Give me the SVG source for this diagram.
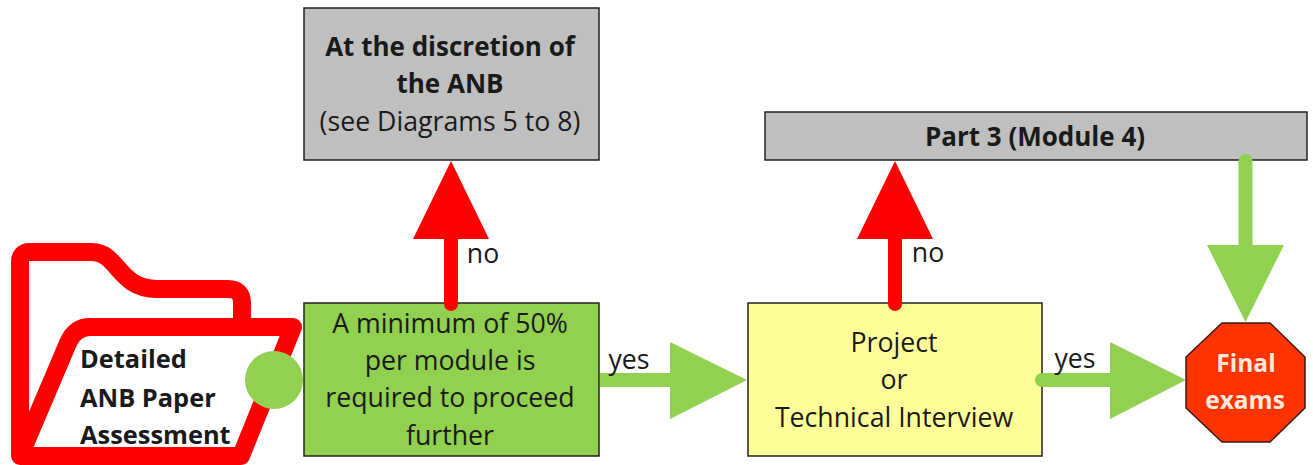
<svg xmlns="http://www.w3.org/2000/svg" width="1313" height="465" viewBox="0 0 1313 465">
<style>
text{font-family:"Open Sans","Liberation Sans",sans-serif;font-size:26.700px;fill:#1a1a1a;text-anchor:middle}
.b{font-weight:700;font-size:26px}
.f{font-weight:700;font-size:25.400px;text-anchor:start}
.w{fill:#ffe9dc;font-size:24.500px}
.box{stroke:#222;stroke-width:1.500}
.red{stroke:#ff0000;stroke-width:14;stroke-linecap:round;fill:none}
.grn{stroke:#92d050;stroke-width:14;stroke-linecap:round;fill:none}
.butt{stroke-linecap:butt}
</style>
<g id="folder">
<path d="M20 456V262Q20 252 30 252H92C118 252 118 289 157 289H228Q242 289 242 303V327" fill="none" stroke="#ff0000" stroke-width="18" stroke-linejoin="round"/>
<path d="M20 456L68 343Q75 327 90 327H293L241 456Z" fill="#fff" stroke="#ff0000" stroke-width="18" stroke-linejoin="round"/>
<text class="f" x="80" y="368">Detailed</text>
<text class="f" x="80" y="407">ANB Paper</text>
<text class="f" x="80" y="444">Assessment</text>
</g>
<g id="discretion">
<rect class="box" x="304" y="8" width="295" height="152" fill="#bfbfbf"/>
<text class="b" x="450" y="56">At the discretion of</text>
<text class="b" x="450" y="93">the ANB</text>
<text x="450" y="131">(see Diagrams 5 to 8)</text>
</g>
<g id="part3">
<rect class="box" x="765" y="112" width="542" height="48" fill="#bfbfbf"/>
<text class="b" x="1035" y="146">Part 3 (Module 4)</text>
</g>
<g id="minimum">
<rect class="box" x="304" y="303" width="295" height="153" fill="#92d050"/>
<text x="450" y="333">A minimum of 50%</text>
<text x="450" y="370">per module is</text>
<text x="450" y="407">required to proceed</text>
<text x="450" y="445">further</text>
</g>
<g id="project">
<rect class="box" x="748" y="303" width="294" height="153" fill="#ffff99"/>
<text x="894" y="352">Project</text>
<text x="894" y="389">or</text>
<text x="894" y="427">Technical Interview</text>
</g>
<g id="final">
<polygon points="1222,323 1270,323 1305,357 1305,408 1270,442 1222,442 1186,408 1186,357" fill="#ff3300" stroke="#3a1a10" stroke-width="1.500"/>
<text class="b w" x="1246" y="372">Final</text>
<text class="b w" x="1245" y="409">exams</text>
</g>
<g id="connectors">
<path class="red" d="M451 304V238"/>
<polygon points="451,161 489,239 413,239" fill="#ff0000"/>
<path class="red" d="M895 304V238"/>
<polygon points="895,161 933,239 857,239" fill="#ff0000"/>
<circle cx="274" cy="380" r="29" fill="#92d050"/>
<path class="grn butt" d="M600 380H672"/>
<polygon points="747,380 670,342 670,419" fill="#92d050"/>
<path class="grn" d="M1042 380H1112"/>
<polygon points="1186,380 1110,342 1110,419" fill="#92d050"/>
<path class="grn" d="M1245.500 161V247"/>
<polygon points="1245.500,322 1207,245 1284,245" fill="#92d050"/>
<text x="629" y="369">yes</text>
<text x="1075" y="368">yes</text>
<text x="483" y="263">no</text>
<text x="928" y="262">no</text>
</g>
</svg>
